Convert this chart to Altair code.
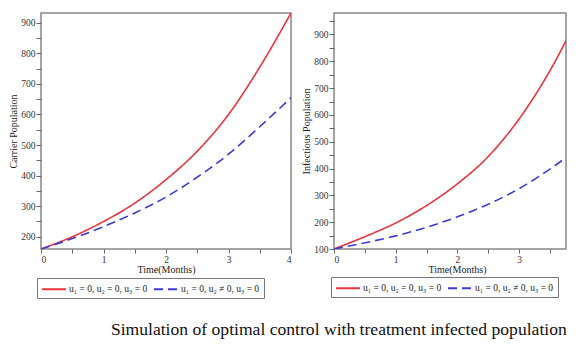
import altair as alt
import pandas as pd

# ---- data ----
t_left = [0, 0.5, 1, 1.5, 2, 2.5, 3, 3.5, 4]
carrier_no_control = [160, 200, 250, 310, 387, 480, 600, 755, 932]
carrier_u2 = [160, 194, 233, 278, 330, 395, 470, 560, 655]

t_right = [0, 0.5, 1, 1.5, 2, 2.5, 3, 3.5, 3.9]
infect_no_control = [100, 146, 197, 262, 343, 445, 585, 765, 940]
infect_u2 = [100, 123, 149, 181, 220, 267, 325, 398, 465]

series = ["u\u2081 = 0, u\u2082 = 0, u\u2083 = 0", "u\u2081 = 0, u\u2082 \u2260 0, u\u2083 = 0"]
colors = ["#e8333c", "#3b3bd6"]
dashes = [[1, 0], [9, 5]]

x_ticks = [0, 0.5, 1, 1.5, 2, 2.5, 3, 3.5, 4]
y_ticks_left = list(range(200, 950, 50))
y_ticks_right = list(range(100, 1000, 50))

def frame(t, a, b):
    rows = []
    for ti, v in zip(t, a):
        rows.append({"t": ti, "v": v, "s": series[0]})
    for ti, v in zip(t, b):
        rows.append({"t": ti, "v": v, "s": series[1]})
    return pd.DataFrame(rows)

df_left = frame(t_left, carrier_no_control, carrier_u2)
df_right = frame(t_right, infect_no_control, infect_u2)

FONT = "Liberation Serif"

def legend(lx, ly):
    return alt.Legend(
        orient="none", legendX=lx, legendY=ly, direction="horizontal", title=None,
        strokeColor="#777", fillColor="white", padding=4,
        symbolType="M-1,0H3", symbolSize=144, symbolStrokeWidth=2,
        labelFont=FONT, labelFontSize=9.5, labelColor="#222", labelOffset=14,
        columnPadding=2,
    )

def panel(df, xdom, ydom, yticks, ytitle, width, lx, ly, titlex):
    lab = "datum.value % 1 == 0 ? format(datum.value, 'd') : ''"
    ylab = "datum.value % 100 == 0 ? format(datum.value, 'd') : ''"
    return alt.Chart(df).mark_line(strokeWidth=1.6, interpolate="monotone", clip=True).encode(
        x=alt.X("t:Q", scale=alt.Scale(domain=xdom, nice=False, zero=False),
                axis=alt.Axis(title="Time(Months)", values=[v for v in x_ticks if v <= xdom[1]],
                              labelExpr=lab, grid=False, domain=False, tickSize=4,
                              tickColor="#666", labelPadding=1, titlePadding=1,
                              labelFont=FONT, labelFontSize=9.5, labelColor="#333",
                              titleFont=FONT, titleFontSize=10, titleFontWeight="normal",
                              titleColor="#222", titleX=titlex)),
        y=alt.Y("v:Q", scale=alt.Scale(domain=ydom, nice=False, zero=False),
                axis=alt.Axis(title=ytitle, values=yticks, labelExpr=ylab, grid=False,
                              domain=False, tickSize=5, tickColor="#666", labelPadding=1,
                              titlePadding=2, labelFont=FONT, labelFontSize=9.5,
                              labelColor="#333", titleFont=FONT, titleFontSize=10,
                              titleFontWeight="normal", titleColor="#222")),
        color=alt.Color("s:N", scale=alt.Scale(domain=series, range=colors), legend=legend(lx, ly)),
        strokeDash=alt.StrokeDash("s:N", scale=alt.Scale(domain=series, range=dashes), legend=legend(lx, ly)),
    ).properties(width=width, height=236)

left = panel(df_left, [0, 4], [160, 932], y_ticks_left, "Carrier Population", 250, -4, 265, 125)
right = panel(df_right, [0, 3.76], [100, 980], y_ticks_right, "Infectious Population", 232, -3, 264, 123)

chart = alt.hconcat(left, right, spacing=8).resolve_scale(
    color="independent", strokeDash="independent"
).resolve_legend(color="independent", strokeDash="independent").properties(
    title=alt.TitleParams(
        "Simulation of optimal control with treatment infected population",
        orient="bottom", anchor="end", font=FONT, fontSize=17.6, fontWeight="normal",
        color="#111", offset=22,
    ),
    padding={"left": 0, "top": 4, "right": 0, "bottom": 0},
).configure_view(stroke="#888", strokeWidth=1.5)

chart.save("out.html", embed_options={"renderer": "svg", "actions": False})
